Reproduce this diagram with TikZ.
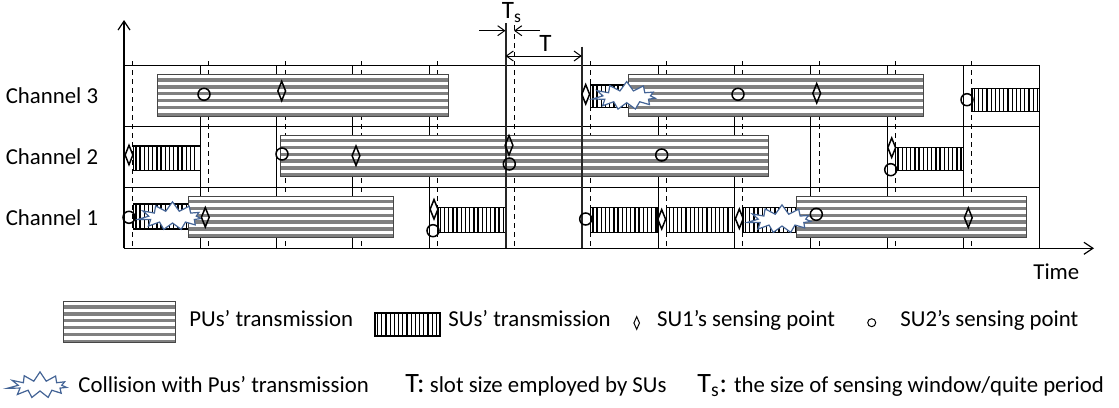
\documentclass[tikz,border=0pt]{standalone}
\usepackage{fontspec}
\setmainfont{Carlito}
\usetikzlibrary{arrows.meta,shapes.geometric,shapes.symbols}

\definecolor{pugray}{RGB}{128,128,128}
\definecolor{collblue}{RGB}{68,100,150}

% PU block: horizontal grey stripes
\newcommand\pubox[4]{%
  \fill[white] (#1,#2) rectangle (#3,#4);
  \foreach \k in {0,...,5}
    \fill[pugray] (#1,{#2+3.4+6.9*\k}) rectangle (#3,{#2+6.9+6.9*\k});
  \draw[puedge] (#1,#2) rectangle (#3,#4);
}
% SU block: vertical black bars
\newcommand\subox[4]{%
  \fill[white] (#1,#2) rectangle (#3,#4);
  \pgfmathtruncatemacro\nbar{(#3-#1)/4.2}
  \foreach \k in {1,...,\nbar}
    \draw[subar] ({#1+4.2*\k-1.6},#2) -- ({#1+4.2*\k-1.6},#4);
  \draw[suedge] (#1,#2) rectangle (#3,#4);
}
\newcommand\bigT{\fontsize{14}{16}\selectfont}

\begin{document}
\begin{tikzpicture}[x=0.5pt,y=-0.5pt,
  font=\fontsize{11.4}{13.7}\selectfont,
  >={Straight Barb[length=3.5pt,width=5pt]},
  grid/.style={line width=0.5pt},
  slotdash/.style={line width=0.5pt,dash pattern=on 2.5pt off 2pt},
  slotedge/.style={line width=1pt,black!85},
  axis/.style={line width=0.6pt,-{Straight Barb[length=4.5pt,width=6pt]}},
  puedge/.style={draw=pugray!55!black,line width=0.5pt},
  subar/.style={line width=0.65pt},
  suedge/.style={draw,line width=0.8pt},
  suone/.style={diamond,draw,line width=0.75pt,inner sep=0pt,minimum width=4.2pt,minimum height=10pt},
  sutwo/.style={circle,draw,line width=0.75pt,inner sep=0pt,minimum size=6pt},
  keyone/.style={suone,line width=0.5pt,minimum width=3pt,minimum height=6.5pt},
  keytwo/.style={sutwo,line width=0.5pt,minimum size=4pt},
  collide/.style={starburst,draw=collblue,fill=white,line width=0.6pt,inner sep=0pt,
    minimum width=36pt,minimum height=18pt,starburst points=11,
    starburst point height=6pt,random starburst=57},
  txt/.style={inner sep=0pt,anchor=base west}]

\useasboundingbox (0,0) rectangle (1119,407);

% slot grid
\foreach \k in {0,...,12}
  \draw[grid] ({124+76.3*\k},65.7) -- ({124+76.3*\k},248.3);
\foreach \y in {65.7,126.3,187.3}
  \draw[grid] (124,\y) -- (1039.6,\y);
\foreach \k in {0,1,2,3,4,6,7,8,9,10,11}
  \draw[slotdash] ({132.5+76.3*\k},61) -- ({132.5+76.3*\k},248.3);
\draw[slotdash] (514,25) -- (514,248.3);

% axes
\draw[axis] (124,248.3) -- (124,20);
\draw[axis] (124,248.3) -- (1094,248.3);
\node[txt] (time) at (1033,279) {Time};
\node[txt,anchor=base east] (ch3) at (98.5,103.3) {Channel 3};
\node[txt,anchor=base east] (ch2) at (98.5,164) {Channel 2};
\node[txt,anchor=base east] (ch1) at (98.5,225) {Channel 1};

% SUs' transmissions
\subox{133.3}{145.7}{200.3}{170.3}
\subox{133.3}{204}{190}{228.7}
\subox{437.7}{207.3}{505.5}{232.3}
\subox{590.3}{85}{630}{107.3}
\subox{590.3}{207.3}{658.1}{232.3}
\subox{666.6}{207.3}{734.4}{232.3}
\subox{742.9}{207.3}{798}{232.3}
\subox{895.5}{147.3}{963.3}{170.3}
\subox{971.8}{88.3}{1039.6}{111.3}

% PUs' transmissions
\pubox{157.3}{74.7}{448.7}{116.3}
\pubox{280.3}{135.3}{768.7}{176.9}
\pubox{188.3}{196.3}{393}{237.9}
\pubox{628.3}{74.7}{923}{116.3}
\pubox{796}{196.3}{1026.7}{237.9}

% slot boundaries used for T and Ts
\draw[slotedge] (505.5,23) -- (505.5,248.3);
\draw[slotedge] (581.8,46.7) -- (581.8,248.3);

% collisions
\node[collide] (hitA) at (172.5,217) {};
\node[collide] (hitB) at (626.7,96.7) {};
\node[collide] (hitC) at (782,220) {};

% SU1 sensing points
\foreach \x/\y [count=\i] in {281.7/91,129/155,356/155.7,205.3/217.3,434/209.3,509/145.3,
    585.7/94.3,661.7/219.3,739.3/218.7,816.7/93.3,891.7/147.7,968.3/217.7}
  \node[suone] (one\i) at (\x,\y) {};
% SU2 sensing points
\foreach \x/\y [count=\i] in {204/94.3,282/154,129/217.3,433/230.7,509.3/164,661.7/155,
    585.7/219,738/94.3,967/99.7,890.7/169.7,816.3/214.3}
  \node[sutwo] (two\i) at (\x,\y) {};

% Ts and T
\node[txt,font=\fontsize{12.5}{14}\selectfont] (tsmark) at (501.5,18.5) {T\textsubscript{s}};
\node[txt,font=\fontsize{12.5}{14}\selectfont] (tmark) at (539,51.7) {T};
\coordinate (tsinL) at (479.3,30.7);
\coordinate (tsinR) at (540,30.7);
\coordinate (tsA) at (505.5,30.7);
\coordinate (tsB) at (514,30.7);
\draw[->,line width=0.5pt] (tsinL) -- (tsA);
\draw[->,line width=0.5pt] (tsinR) -- (tsB);
\coordinate (slotL) at (505.5,56);
\coordinate (slotR) at (581.8,56);
\draw[<->,line width=0.5pt] (slotL) -- (slotR);

% legend
\pubox{63.3}{301.7}{175.7}{342.7}
\node[txt] (pukey) at (189,326) {PUs’ transmission};
\subox{375}{312.7}{440}{336}
\node[txt] (sukey) at (448,326) {SUs’ transmission};
\node[keyone] (onekey) at (636.7,323) {};
\node[txt] (onelab) at (656.7,326) {SU1’s sensing point};
\node[keytwo] (twokey) at (871.7,322.7) {};
\node[txt] (twolab) at (900,326) {SU2’s sensing point};
\node[collide,minimum width=34pt,minimum height=17pt] (hitkey) at (40,386) {};
\node[txt] (hitlab) at (78,392) {Collision with Pus’ transmission};
\node[txt] (tkey) at (405,392) {{\bigT T:} slot size employed by SUs};
\node[txt] (tskey) at (697,392) {{\bigT T\textsubscript{s}:} the size of sensing window/quite period};

\end{tikzpicture}
\end{document}
